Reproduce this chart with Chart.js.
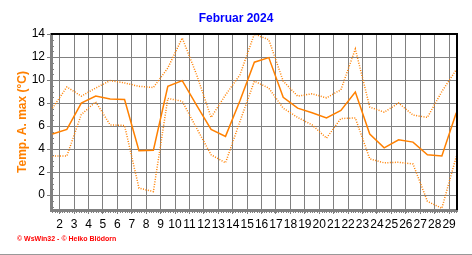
<!DOCTYPE html>
<html>
<head>
<meta charset="utf-8">
<script src="https://cdn.jsdelivr.net/npm/chart.js@4"></script>
<style>
  body { margin: 0; background: #fff; }
  #wrap { position: relative; width: 472px; height: 254px; border-bottom: 1px solid #999; }
  #footer { position: absolute; left: 17px; top: 235px; font: bold 7px "Liberation Sans", Arial, sans-serif; color: #f00; white-space: nowrap; }
</style>
</head>
<body>
<div id="wrap">
  <canvas id="c" width="472" height="255"></canvas>
  <div id="footer">© WsWin32 - © Heiko Blödorn</div>
</div>
<script>
// days of February 2024
const days = [1, 2, 3, 4, 5, 6, 7, 8, 9, 10, 11, 12, 13, 14, 15, 16, 17, 18, 19, 20, 21, 22, 23, 24, 25, 26, 27, 28, 29];
const dayLabels = [2, 3, 4, 5, 6, 7, 8, 9, 10, 11, 12, 13, 14, 15, 16, 17, 18, 19, 20, 21, 22, 23, 24, 25, 26, 27, 28, 29];
const yTicks = [0, 2, 4, 6, 8, 10, 12, 14];

// Temp. A. max (°C)
const tMax = [5.3, 5.7, 8.0, 8.6, 8.35, 8.3, 3.85, 3.9, 9.45, 9.95, 7.8, 5.7, 5.1, 8.2, 11.55, 11.95, 8.5, 7.55, 7.15, 6.7, 7.35, 8.95, 5.3, 4.1, 4.8, 4.6, 3.5, 3.4, 7.15];
const tUpper = [7.55, 9.4, 8.6, 9.3, 9.95, 9.75, 9.45, 9.35, 11.05, 13.65, 10.45, 6.75, 8.7, 10.45, 14.0, 13.5, 9.9, 8.6, 8.8, 8.45, 9.15, 12.7, 7.65, 7.2, 8.0, 6.95, 6.75, 9.0, 10.9];
const tLower = [3.4, 3.4, 7.0, 8.1, 6.1, 6.05, 0.6, 0.3, 8.4, 8.15, 5.8, 3.5, 2.8, 6.4, 9.9, 9.3, 7.55, 6.75, 6.1, 4.95, 6.65, 6.7, 3.15, 2.8, 2.85, 2.7, -0.55, -1.15, 3.35];

const orange = '#ff8000';
const grey = '#808080';
const font = '"Liberation Sans", Arial, sans-serif';

const pts = vals => vals.map((v, i) => ({ x: days[i] + 0.5, y: v }));

const frame = {
  id: 'frame',
  afterDraw(chart) {
    const { ctx, chartArea: a, scales } = chart;
    ctx.save();
    // minor ticks on both axes
    ctx.strokeStyle = grey;
    ctx.lineWidth = 1;
    const xs = scales.x;
    ctx.beginPath();
    for (let v = Math.ceil(xs.min * 6) / 6; v <= xs.max; v += 1 / 6) {
      const px = Math.round(xs.getPixelForValue(v)) + 0.5;
      ctx.moveTo(px, a.bottom + 1);
      ctx.lineTo(px, a.bottom + 3);
    }
    const ys = scales.y;
    for (let v = Math.ceil(ys.min * 2) / 2; v <= ys.max; v += 0.5) {
      const py = Math.round(ys.getPixelForValue(v)) + 0.5;
      ctx.moveTo(a.left + 1, py);
      ctx.lineTo(a.left + 3, py);
    }
    ctx.stroke();
    // top and right border
    ctx.strokeStyle = '#000';
    ctx.lineWidth = 2;
    ctx.beginPath();
    ctx.moveTo(a.left, a.top);
    ctx.lineTo(a.right, a.top);
    ctx.lineTo(a.right, a.bottom);
    ctx.stroke();
    ctx.restore();
  }
};

new Chart(document.getElementById('c'), {
  type: 'line',
  data: {
    datasets: [
      { data: pts(tMax), borderColor: orange, borderWidth: 1.5 },
      { data: pts(tUpper), borderColor: orange, borderWidth: 1.5, borderDash: [1, 1.5] },
      { data: pts(tLower), borderColor: orange, borderWidth: 1.5, borderDash: [1, 1.5] },
    ].map(d => ({ ...d, pointRadius: 0, fill: false, tension: 0 })),
  },
  options: {
    responsive: false,
    animation: false,
    layout: { padding: 0 },
    plugins: {
      legend: { display: false },
      tooltip: { enabled: false },
      title: {
        display: true,
        text: 'Februar 2024',
        color: '#0000ff',
        font: { family: font, size: 12, weight: 'bold' },
        padding: { top: 11.6, bottom: 8 },
      },
    },
    scales: {
      x: {
        type: 'linear',
        min: 1.4,
        max: 29.55,
        afterBuildTicks: s => { s.ticks = dayLabels.map(v => ({ value: v })); },
        afterFit: s => { s.height = 45; },
        grid: { color: grey, lineWidth: 1, borderDash: [4, 3], tickLength: 4, tickBorderDash: [], tickColor: grey },
        border: { color: grey, width: 3 },
        ticks: { color: '#000', font: { family: font, size: 12 }, padding: 3, maxRotation: 0, autoSkip: false },
      },
      y: {
        min: -1.3,
        max: 14,
        afterBuildTicks: s => { s.ticks = yTicks.map(v => ({ value: v })); },
        afterFit: s => { s.width = 51; },
        grid: { color: grey, lineWidth: 1, borderDash: [4, 3], tickLength: 4, tickBorderDash: [], tickColor: grey },
        border: { color: grey, width: 3 },
        ticks: { color: '#000', font: { family: font, size: 12 }, padding: 2 },
        title: {
          display: true,
          text: 'Temp. A. max (°C)',
          color: orange,
          font: { family: font, size: 12, weight: 'bold' },
          padding: { top: 15, bottom: 0 },
        },
      },
      // empty right margin
      yRight: {
        position: 'right',
        min: -1.3,
        max: 14,
        afterFit: s => { s.width = 15; },
        grid: { display: false },
        border: { display: false },
        ticks: { display: false },
      },
    },
  },
  plugins: [frame],
});
</script>
</body>
</html>
